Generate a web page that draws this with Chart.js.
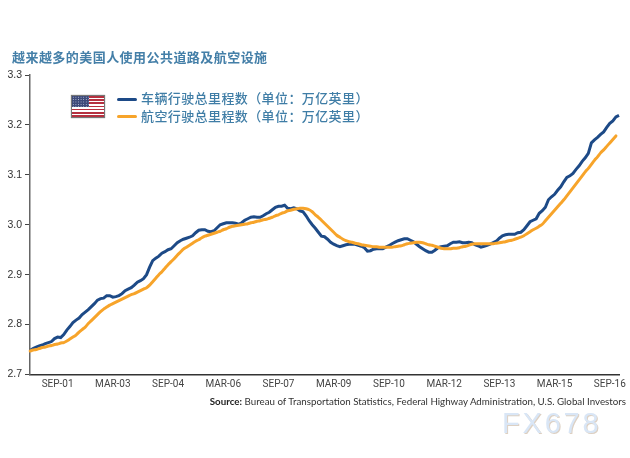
<!DOCTYPE html>
<html><head><meta charset="utf-8">
<style>
html,body{margin:0;padding:0;background:#fff;width:630px;height:458px;overflow:hidden}
#wrap{position:relative;width:630px;height:458px}
canvas{position:absolute;left:0;top:0}
.t{position:absolute;white-space:nowrap}
#title{left:12px;top:49px;font:bold 13px/16px "Noto Sans CJK SC";letter-spacing:.45px;color:#447fa8}
.leg{left:141px;font:500 13px/16px "Noto Sans CJK SC";letter-spacing:.4px;color:#3f7da6}
.key{position:absolute;left:117px;width:20px;height:3px;border-radius:2px}
#flag{position:absolute;left:71px;top:95px;width:34px;height:23px;border:1px solid #777;box-sizing:border-box;
 background:repeating-linear-gradient(180deg,#b5303f 0,#b5303f 1.6px,#fff 1.6px,#fff 3.2px);box-shadow:0 0 1px #888}
#canton{position:absolute;left:0;top:0;width:17px;height:11px;background-color:#3d4a7a;
 background-image:radial-gradient(#c6cbe0 0.6px,transparent 0.7px);background-size:2.6px 2.4px}
#src{right:4px;top:394px;font:9.75px/14px Lato;color:#333}
#src b{font-weight:700;color:#222}
#wm{left:502px;top:405px;font:29px/36px "Liberation Sans";letter-spacing:2.8px;color:#d9e6f6;text-shadow:1px 1px 0 #ddd0c2}
</style>
<script src="https://cdn.jsdelivr.net/npm/chart.js@4"></script>
</head><body>
<div id="wrap">
<canvas id="c" width="630" height="458"></canvas>
<div class="t" id="title">越来越多的美国人使用公共道路及航空设施</div>
<div id="flag"><div id="canton"></div></div>
<div class="key" id="k1" style="top:98px;background:#1d4a87"></div>
<div class="key" id="k2" style="top:115px;background:#f7a42a"></div>
<div class="t leg" id="l1" style="top:90px"></div>
<div class="t leg" id="l2" style="top:108px"></div>
<div class="t" id="src"><b>Source:</b> Bureau of Transportation Statistics, Federal Highway Administration, U.S. Global Investors</div>
<div class="t" id="wm">FX678</div>
</div>
<script>
const tickLabels=["SEP-01","MAR-03","SEP-04","MAR-06","SEP-07","MAR-09","SEP-10","MAR-12","SEP-13","MAR-15","SEP-16"];
const yTicks=[2.7,2.8,2.9,3.0,3.1,3.2,3.3];
const seriesNames=["车辆行驶总里程数（单位：万亿英里）","航空行驶总里程数（单位：万亿英里）"];
const vehicleMiles=[2.748,2.752,2.755,2.757,2.759,2.762,2.764,2.766,2.772,2.775,2.774,2.780,2.789,2.796,2.804,2.809,2.813,2.820,2.825,2.830,2.836,2.842,2.849,2.852,2.853,2.858,2.858,2.855,2.856,2.858,2.862,2.868,2.871,2.874,2.879,2.885,2.888,2.892,2.900,2.915,2.928,2.933,2.937,2.943,2.946,2.950,2.952,2.958,2.964,2.968,2.971,2.973,2.975,2.978,2.984,2.989,2.990,2.990,2.987,2.986,2.988,2.994,3.000,3.002,3.004,3.004,3.004,3.003,3.001,3.004,3.009,3.012,3.015,3.016,3.015,3.015,3.018,3.022,3.025,3.030,3.035,3.037,3.037,3.039,3.033,3.032,3.034,3.032,3.028,3.026,3.018,3.008,3.000,2.993,2.985,2.977,2.976,2.971,2.965,2.961,2.958,2.956,2.958,2.960,2.961,2.961,2.961,2.959,2.957,2.954,2.947,2.948,2.951,2.952,2.952,2.952,2.955,2.958,2.962,2.965,2.968,2.970,2.972,2.972,2.969,2.966,2.961,2.956,2.952,2.948,2.945,2.945,2.949,2.954,2.956,2.957,2.958,2.962,2.965,2.965,2.966,2.964,2.964,2.965,2.964,2.960,2.958,2.955,2.957,2.959,2.961,2.964,2.967,2.973,2.978,2.980,2.981,2.981,2.981,2.984,2.985,2.990,2.998,3.006,3.009,3.012,3.023,3.028,3.035,3.050,3.056,3.061,3.069,3.076,3.086,3.095,3.098,3.103,3.111,3.118,3.127,3.134,3.143,3.164,3.170,3.175,3.181,3.186,3.195,3.203,3.208,3.216,3.219];
const airMiles=[2.747,2.749,2.750,2.752,2.754,2.755,2.757,2.758,2.760,2.761,2.763,2.764,2.767,2.771,2.775,2.779,2.785,2.790,2.795,2.802,2.808,2.814,2.820,2.826,2.831,2.835,2.839,2.842,2.845,2.848,2.851,2.854,2.857,2.860,2.862,2.865,2.868,2.871,2.874,2.879,2.886,2.893,2.900,2.906,2.913,2.920,2.926,2.932,2.939,2.945,2.951,2.955,2.959,2.963,2.967,2.970,2.974,2.977,2.979,2.981,2.983,2.985,2.987,2.990,2.992,2.995,2.997,2.998,2.999,3.000,3.001,3.002,3.004,3.005,3.007,3.008,3.010,3.011,3.013,3.015,3.018,3.020,3.023,3.025,3.028,3.029,3.031,3.032,3.033,3.033,3.032,3.030,3.026,3.020,3.015,3.009,3.003,2.997,2.991,2.985,2.979,2.975,2.971,2.968,2.966,2.965,2.963,2.962,2.960,2.959,2.958,2.957,2.956,2.956,2.955,2.955,2.955,2.955,2.955,2.956,2.957,2.958,2.960,2.962,2.963,2.964,2.965,2.965,2.964,2.962,2.960,2.959,2.957,2.955,2.953,2.952,2.952,2.952,2.953,2.953,2.954,2.956,2.957,2.959,2.961,2.962,2.962,2.962,2.962,2.962,2.962,2.962,2.963,2.964,2.965,2.966,2.968,2.969,2.971,2.973,2.975,2.978,2.982,2.986,2.990,2.993,2.997,3.001,3.008,3.015,3.022,3.029,3.036,3.043,3.050,3.058,3.066,3.074,3.082,3.090,3.098,3.106,3.113,3.121,3.129,3.136,3.144,3.150,3.157,3.164,3.171,3.178,null];
const monthNames=["JAN","FEB","MAR","APR","MAY","JUN","JUL","AUG","SEP","OCT","NOV","DEC"];
const categories=vehicleMiles.map((_,i)=>{const m=i+11;return monthNames[m%12]+"-"+String(Math.floor(m/12)).padStart(2,"0")});
document.getElementById("l1").textContent=seriesNames[0];
document.getElementById("l2").textContent=seriesNames[1];
new Chart(document.getElementById("c"),{
 type:"line",
 data:{labels:categories,datasets:[
  {label:seriesNames[0],data:vehicleMiles,borderColor:"#1d4a87",backgroundColor:"#1d4a87",borderWidth:3,pointRadius:0,tension:0,order:2},
  {label:seriesNames[1],data:airMiles,borderColor:"#f7a42a",backgroundColor:"#f7a42a",borderWidth:3,pointRadius:0,tension:0.3,order:1,borderCapStyle:"round"}
 ]},
 options:{responsive:false,animation:false,events:[],
  layout:{padding:{top:75,right:11,left:0,bottom:0}},
  plugins:{legend:{display:false},tooltip:{enabled:false},title:{display:false}},
  scales:{
   x:{type:"category",offset:false,
    afterFit(s){s.height=83.5},
    grid:{display:false,drawTicks:false},
    border:{display:true,color:"#333",width:1.5},
    ticks:{autoSkip:false,maxRotation:0,minRotation:0,padding:4,color:"#444",font:{family:"Roboto",size:10},
     callback(v){const l=this.getLabelForValue(v);return tickLabels.includes(l)?l:""}}
   },
   y:{min:2.7,max:3.3,
    afterFit(s){s.width=30},
    afterBuildTicks(s){s.ticks=yTicks.map(v=>({value:v}))},
    grid:{drawOnChartArea:false,drawTicks:true,tickLength:5,color:"#444"},
    border:{display:true,color:"#666",width:1.5},
    ticks:{padding:3,color:"#333",font:{family:"Liberation Sans",size:10.5},callback:v=>v.toFixed(1)}
   }
  }
 }
});
</script>
</body></html>
